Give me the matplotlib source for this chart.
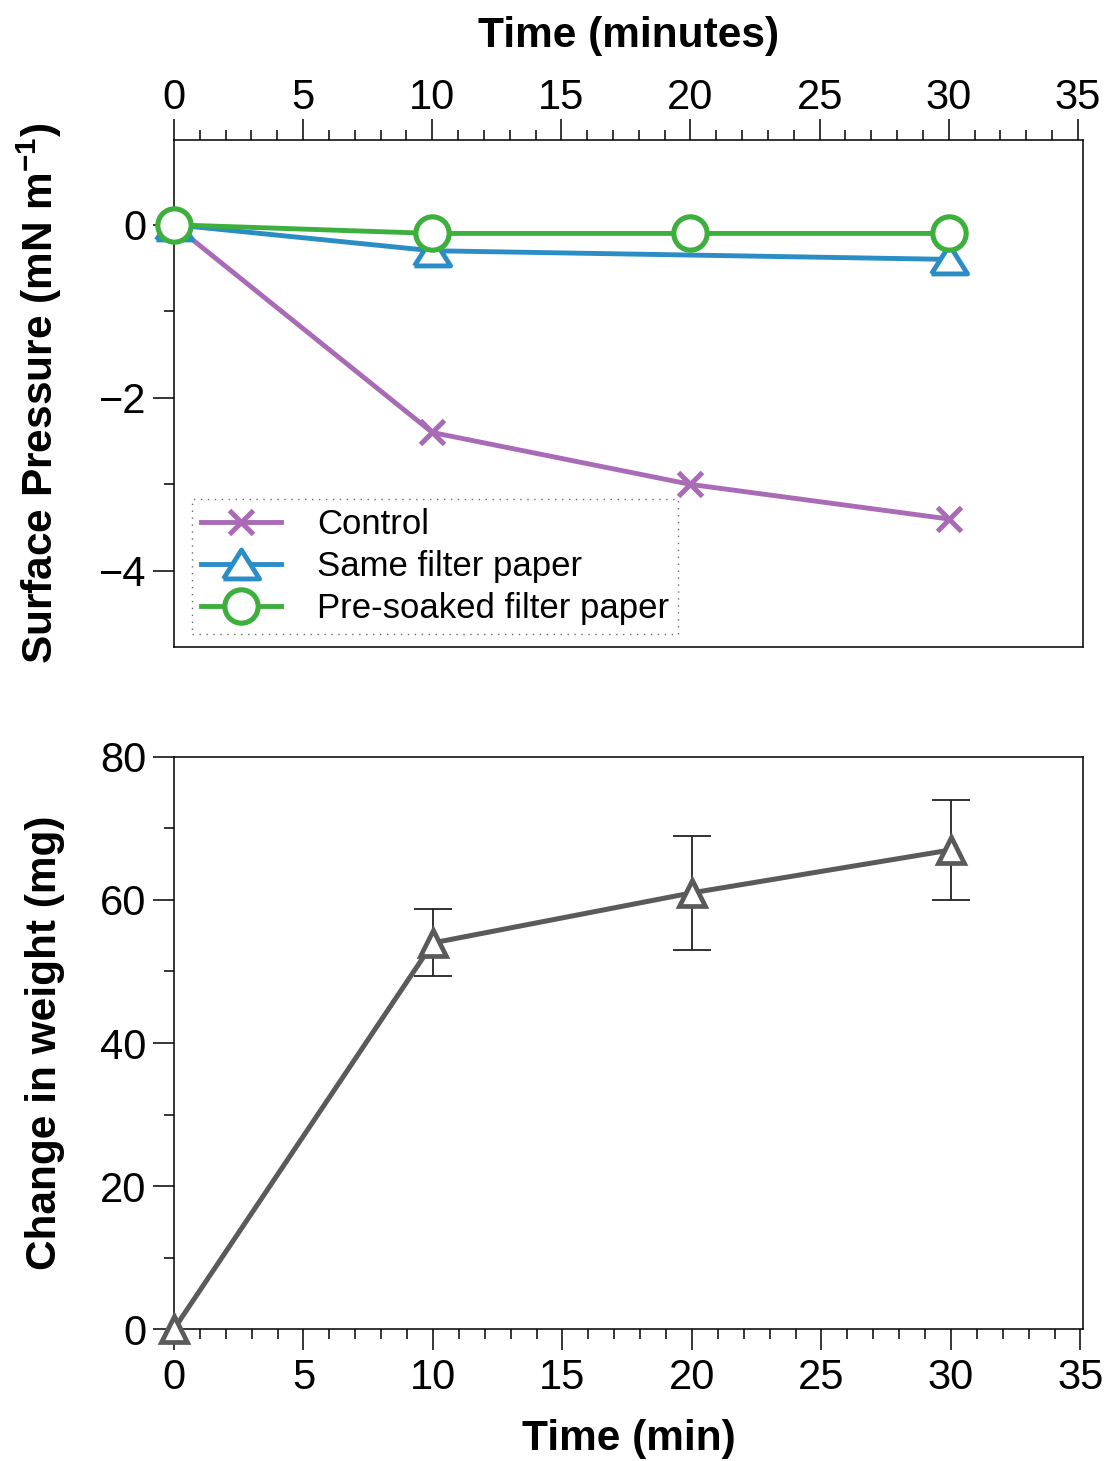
import numpy as np
import matplotlib
matplotlib.use("Agg")
import matplotlib.pyplot as plt
from matplotlib.ticker import MultipleLocator

plt.rcParams['font.family'] = ['Liberation Sans', 'DejaVu Sans']
plt.rcParams['mathtext.fontset'] = 'custom'
plt.rcParams['mathtext.rm'] = 'Liberation Sans'
plt.rcParams['mathtext.bf'] = 'Liberation Sans:bold'

# Datos: presion superficial
t_control = [0, 10, 20, 30]
p_control = [0, -2.4, -3.0, -3.4]
t_same = [0, 10, 30]
p_same = [0, -0.3, -0.4]
t_soaked = [0, 10, 20, 30]
p_soaked = [0, -0.1, -0.1, -0.1]

# Datos: cambio de peso
t_weight = [0, 10, 20, 30]
weight = [0, 54, 61, 67]
t_err = [10, 20, 30]
weight_mid = [54, 61, 67]
weight_err = [4.7, 8, 7]

c_purple = "#a96bb6"
c_blue = "#2a8dc5"
c_green = "#3daf3d"
c_grey = "#5a5a5a"

# triangulo achatado para la serie azul
flat_tri = [(-1, -0.8), (1, -0.8), (0, 0.8), (-1, -0.8)]

fig = plt.figure(figsize=(11.08, 14.61), dpi=100)
ax1 = fig.add_axes([0.157, 0.5571, 0.8205, 0.3471])
ax2 = fig.add_axes([0.157, 0.0903, 0.8205, 0.3916])

tick_fs = 30
label_fs = 30.5

ax1.plot(t_control, p_control, color=c_purple, lw=3.5, marker='x', ms=17, mew=3.6,
         label="Control", zorder=3)
ax1.plot(t_same, p_same, color=c_blue, lw=3.5, marker=flat_tri, ms=26, mew=3.5,
         mfc='white', label="Same filter paper", zorder=4)
ax1.plot(t_soaked, p_soaked, color=c_green, lw=3.5, marker='o', ms=24, mew=3.7,
         mfc='white', label="Pre-soaked filter paper", zorder=5)

ax1.set_xlim(0, 35.2)
ax1.set_ylim(-4.88, 0.98)
ax1.xaxis.set_major_locator(MultipleLocator(5))
ax1.xaxis.set_minor_locator(MultipleLocator(1))
ax1.yaxis.set_major_locator(MultipleLocator(2))
ax1.yaxis.set_minor_locator(MultipleLocator(1))
ax1.xaxis.tick_top()
ax1.xaxis.set_label_position('top')
ax1.tick_params(axis='both', which='major', direction='out', length=15, width=1.1,
                labelsize=tick_fs)
ax1.tick_params(axis='both', which='minor', direction='out', length=7.5, width=1.1)
ax1.tick_params(axis='x', which='both', top=True, bottom=False, pad=1)
ax1.tick_params(axis='y', which='both', left=True, right=False, pad=5)
ax1.set_xlabel("Time (minutes)", fontsize=label_fs, fontweight='bold', labelpad=22)
ax1.set_ylabel(r"Surface Pressure (mN m$^{\mathbf{-1}}$)", fontsize=label_fs,
               fontweight='bold', labelpad=25)

leg = ax1.legend(loc='lower left', bbox_to_anchor=(0.02, 0.026), borderaxespad=0,
                 fontsize=25, fancybox=False, frameon=True, handlelength=2.3,
                 handletextpad=1.05, labelspacing=0.26, borderpad=0.25)
frame = leg.get_frame()
frame.set_linestyle((0, (1, 4)))
frame.set_edgecolor('#444444')
frame.set_linewidth(1.0)

ax2.errorbar(t_err, weight_mid, yerr=weight_err, fmt='none', ecolor='#222222',
             elinewidth=1.3, capsize=14, capthick=1.3, zorder=2)
ax2.plot(t_weight, weight, color=c_grey, lw=3.6, marker='^', ms=19, mew=3.4,
         mfc='white', zorder=3)

ax2.set_xlim(0, 35.1)
ax2.set_ylim(0, 80)
ax2.xaxis.set_major_locator(MultipleLocator(5))
ax2.xaxis.set_minor_locator(MultipleLocator(1))
ax2.yaxis.set_major_locator(MultipleLocator(20))
ax2.yaxis.set_minor_locator(MultipleLocator(10))
ax2.tick_params(axis='both', which='major', direction='out', length=15, width=1.1,
                labelsize=tick_fs)
ax2.tick_params(axis='both', which='minor', direction='out', length=7.5, width=1.1)
ax2.tick_params(axis='x', which='both', top=False, bottom=True, pad=6)
ax2.tick_params(axis='y', which='both', left=True, right=False, pad=5)
ax2.set_xlabel("Time (min)", fontsize=label_fs, fontweight='bold', labelpad=15)
ax2.set_ylabel("Change in weight (mg)", fontsize=label_fs, fontweight='bold', labelpad=25)

for ax in (ax1, ax2):
    for s in ax.spines.values():
        s.set_linewidth(1.1)
    for m in ax.get_lines():
        m.set_clip_on(False)

fig.savefig("out.png", dpi=100)
